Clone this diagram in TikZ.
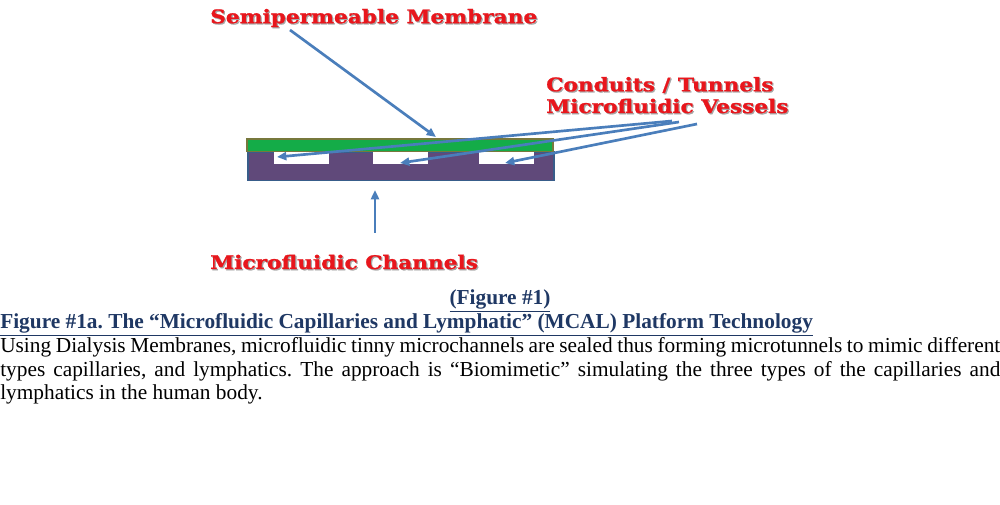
\documentclass[tikz,border=0pt]{standalone}
\usepackage{fontspec}
\setmainfont{Liberation Serif}
\newfontfamily\lblfont[FakeStretch=1.16,FakeBold=1.2]{DejaVu Serif Bold}
\usetikzlibrary{arrows.meta}
\definecolor{redlbl}{RGB}{232,22,28}
\definecolor{purp}{RGB}{96,73,122}
\definecolor{purpborder}{RGB}{56,93,138}
\definecolor{memgreen}{RGB}{20,172,72}
\definecolor{memborder}{RGB}{119,120,60}
\definecolor{arrowblue}{RGB}{74,126,187}
\definecolor{capblue}{RGB}{31,56,100}
\frenchspacing
\begin{document}
\begin{tikzpicture}[x=0.75pt,y=-0.75pt,
  lbl/.style={font=\lblfont\fontsize{14}{16}\selectfont, text=redlbl, inner sep=0pt, anchor=west},
  lblshadow/.style={font=\lblfont\fontsize{14}{16}\selectfont, text=black!35, inner sep=0pt, anchor=west},
  arr/.style={draw=arrowblue, line width=2pt, -{Triangle[length=7pt,width=6pt]}},
  channel/.style={fill=white, draw=none, inner sep=0pt, minimum width=41.25pt, minimum height=9pt, anchor=north west},
  body/.style={font=\fontsize{16}{18}\selectfont, inner sep=0pt, anchor=base west},
  captext/.style={font=\bfseries\fontsize{16}{18}\selectfont, text=capblue, inner sep=0pt}
]
\useasboundingbox (0,0) rectangle (1000,505);
\fill[white] (0,0) rectangle (1000,505);

% base and membrane
\node[draw=purpborder, line width=1.2pt, fill=purp, inner sep=0pt, minimum width=229.5pt, minimum height=21.5pt, anchor=north west] (base) at (247,151) {};
\node[draw=memborder, line width=1.2pt, fill=memgreen, inner sep=0pt, minimum width=229.5pt, minimum height=9.5pt, anchor=north west] (membrane) at (246,138) {};
\node[channel] (ch1) at (274,152) {};
\node[channel] (ch2) at (373,152) {};
\node[channel] (ch3) at (479,152) {};

% labels
\node[lblshadow] (semiS) at (211.2,19.2) {Semipermeable Membrane};
\node[lbl] (semi) at (210,18) {Semipermeable Membrane};
\node[lblshadow] (condS) at (547.2,86.2) {Conduits / Tunnels};
\node[lbl] (cond) at (546,85) {Conduits / Tunnels};
\node[lblshadow] (vessS) at (547.2,107.2) {Microfluidic Vessels};
\node[lbl] (vess) at (546,106) {Microfluidic Vessels};
\node[lblshadow] (chanS) at (211.2,263.2) {Microfluidic Channels};
\node[lbl] (chan) at (210,262) {Microfluidic Channels};

% arrow coordinates
\coordinate (s0) at (290,30);
\coordinate (s1) at (436,137);
\coordinate (c1a) at (672,121);
\coordinate (c2a) at (679,122);
\coordinate (c3a) at (697,124);
\coordinate (c1b) at (277,157);
\coordinate (c2b) at (400,163);
\coordinate (c3b) at (505,163);
\coordinate (u0) at (375,233);
\coordinate (u1) at (375,190);

\draw[arr] (s0) -- (s1);
\draw[arr] (c1a) -- (c1b);
\draw[arr] (c2a) -- (c2b);
\draw[arr] (c3a) -- (c3b);
\draw[arr] (u0) -- (u1);

% caption
\node[captext, anchor=base] (figno) at (500,305) {\underline{(Figure \#1)}};
\node[captext, anchor=base west] (figtitle) at (0,329) {\underline{Figure \#1a. The “Microfluidic Capillaries and Lymphatic” (MCAL) Platform Technology}};
\node[body] (l1) at (0,353) {\spaceskip=0.2em plus 1fil minus 0.1em\makebox[750pt][s]{Using Dialysis Membranes, microfluidic tinny microchannels are sealed thus forming microtunnels to mimic different}};
\node[body] (l2) at (0,376.5) {\spaceskip=0.2em plus 1fil minus 0.1em\makebox[750pt][s]{types capillaries, and lymphatics. The approach is “Biomimetic” simulating the three types of the capillaries and}};
\node[body] (l3) at (0,400) {lymphatics in the human body.};
\end{tikzpicture}
\end{document}
